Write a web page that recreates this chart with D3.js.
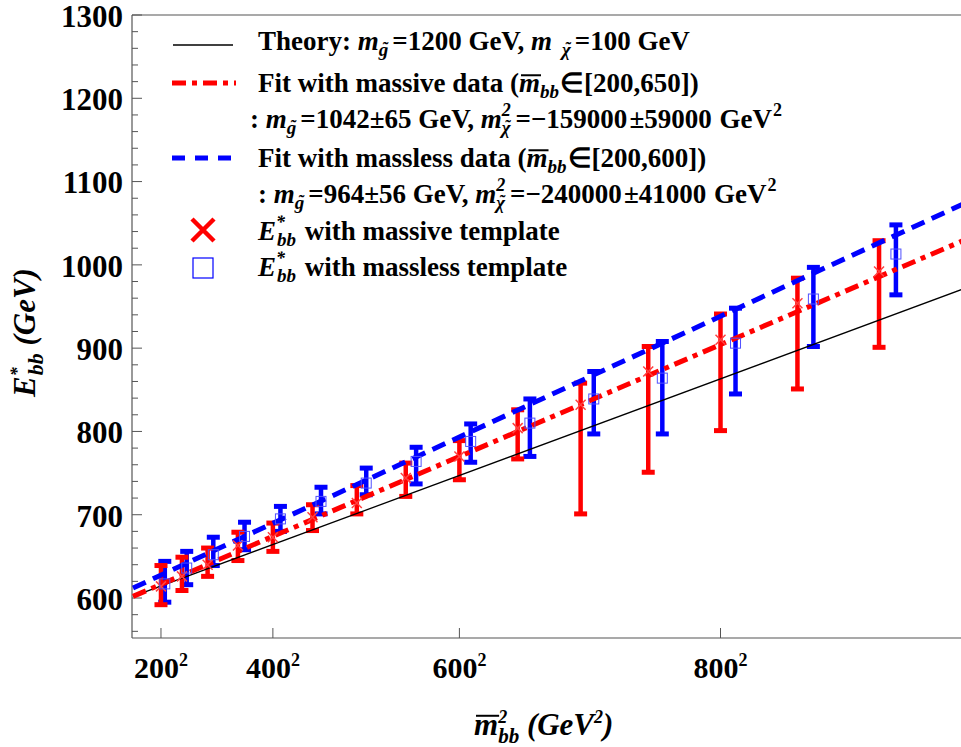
<!DOCTYPE html>
<html>
<head>
<meta charset="utf-8">
<script src="https://cdn.jsdelivr.net/npm/d3@7"></script>
<style>
	body { margin: 0; background: #fff; }
	svg { display: block; font-family: 'Liberation Serif', 'Times New Roman', serif; font-weight: bold; white-space: pre; }
</style>
</head>
<body>
<svg></svg>
<script>
// massive template points (mbb in GeV, E*bb centre, lower, upper)
const massiveM = [200, 250, 300, 350, 400, 450, 500, 550, 600, 650, 700, 750, 800, 850, 900]
const massiveE = [614, 626, 640, 663, 673, 697, 714, 744, 770, 804, 832, 872, 910, 954, 992]
const massiveLo = [592, 609, 626, 645, 656, 681, 701, 722, 742, 767, 701, 751, 801, 851, 901]
const massiveHi = [639, 649, 660, 679, 690, 712, 735, 762, 789, 826, 858, 902, 941, 984, 1029]

// massless template points
const masslessM = [210, 260, 310, 360, 410, 460, 510, 560, 610, 660, 710, 760, 810, 860, 910]
const masslessE = [617, 636, 652, 674, 695, 716, 738, 764, 788, 810, 839, 864, 906, 959, 1013]
const masslessLo = [595, 616, 639, 658, 680, 701, 724, 737, 763, 770, 797, 797, 845, 902, 964]
const masslessHi = [644, 656, 673, 691, 710, 733, 756, 781, 809, 839, 872, 908, 948, 997, 1048]

// straight lines (ends read at the plot edges)
const theoryLine = [[100, 602], [948.7, 971]]
const massiveFit = [[100, 602], [948.7, 1029]]
const masslessFit = [[100, 612], [948.7, 1073]]

const xTicks = [200, 400, 600, 800]
const yTicks = [600, 700, 800, 900, 1000, 1100, 1200, 1300]

const width = 961,
	height = 747,
	red = '#ff0000',
	blue = '#0000ff',
	axisColor = '#555'

const x = d3.scalePow().exponent(2).domain([100, 948.7]).range([133, 963])
const y = d3.scaleLinear().domain([552, 1300]).range([638, 15])

const svg = d3.select('svg').attr('width', width).attr('height', height)

svg.append('clipPath')
	.attr('id', 'plot')
	.append('rect')
	.attr('x', 132)
	.attr('y', 15)
	.attr('width', width - 132)
	.attr('height', 623)

// frame
svg.append('line').attr('x1', 132).attr('x2', width).attr('y1', 15).attr('y2', 15)
	.attr('stroke', axisColor).attr('stroke-width', 1.2)
svg.append('line').attr('x1', 132).attr('x2', width).attr('y1', 638).attr('y2', 638)
	.attr('stroke', axisColor).attr('stroke-width', 1.2)
svg.append('line').attr('x1', 132).attr('x2', 132).attr('y1', 15).attr('y2', 638)
	.attr('stroke', axisColor).attr('stroke-width', 1.2)

// y ticks, minor every 20
const yMinor = d3.range(560, 1301, 20)
svg.selectAll('.ytick')
	.data(yMinor)
	.enter()
	.append('line')
	.attr('x1', 132)
	.attr('x2', d => (d % 100 === 0 ? 142 : 138))
	.attr('y1', d => y(d))
	.attr('y2', d => y(d))
	.attr('stroke', axisColor)
	.attr('stroke-width', 1)

svg.selectAll('.ylab')
	.data(yTicks)
	.enter()
	.append('text')
	.attr('x', 123)
	.attr('y', d => y(d))
	.attr('dy', '0.38em')
	.attr('text-anchor', 'end')
	.attr('font-size', 31)
	.text(d => d)

// x ticks
svg.selectAll('.xtick')
	.data(xTicks)
	.enter()
	.append('line')
	.attr('x1', d => x(d))
	.attr('x2', d => x(d))
	.attr('y1', 638)
	.attr('y2', 628)
	.attr('stroke', axisColor)
	.attr('stroke-width', 1)

const xlab = svg.selectAll('.xlab')
	.data(xTicks)
	.enter()
	.append('text')
	.attr('x', d => x(d))
	.attr('y', 678)
	.attr('text-anchor', 'middle')
	.attr('font-size', 30)
xlab.append('tspan').text(d => d)
xlab.append('tspan').attr('font-size', 18).attr('dy', -12).text('2')

// rich text helper: parts with sub/superscripts, overbars and tildes
function rich(parent, x0, y0, size, parts) {
	const t = parent.append('text').attr('x', x0).attr('y', y0).attr('font-size', size)
	let cur = 0, idx = 0
	const marks = []
	parts.forEach(p => {
		const off = p.dy || 0
		t.append('tspan')
			.attr('dy', off - cur)
			.attr('dx', p.dx || 0)
			.attr('font-size', p.fs || size)
			.attr('font-style', p.it ? 'italic' : 'normal')
			.text(p.t)
		if (p.bar || p.tilde) marks.push({ i: idx, n: p.t.length, p })
		idx += p.t.length
		cur = off
	})
	const node = t.node()
	marks.forEach(m => {
		const s = node.getStartPositionOfChar(m.i)
		const e = node.getEndPositionOfChar(m.i + m.n - 1)
		if (m.p.bar) {
			parent.append('line')
				.attr('x1', s.x + 2)
				.attr('x2', e.x + 1)
				.attr('y1', s.y - size * 0.62)
				.attr('y2', s.y - size * 0.62)
				.attr('stroke', '#000')
				.attr('stroke-width', 2)
		} else {
			parent.append('text')
				.attr('x', (s.x + e.x) / 2 + 2)
				.attr('y', s.y - (m.p.fs || size) * 0.12)
				.attr('text-anchor', 'middle')
				.attr('font-size', (m.p.fs || size) * 0.9)
				.text('\u02dc')
		}
	})
	return t
}
const N = (t, dx) => ({ t, dx: dx || 0 })
const I = t => ({ t, it: true })
const Sub = (t, dx) => ({ t, it: true, fs: 19, dy: 6, dx: dx || 0 })
const Til = (t, dx) => ({ t, it: true, fs: 19, dy: 6, dx: dx || 0, tilde: true })
const Sup = (t, it, dx) => ({ t, it: it, fs: 18, dy: -12, dx: dx || 0 })

// axis titles
rich(svg, 474, 735, 31, [
	{ t: 'm', it: true, bar: true }, Sup('2', true), { t: 'bb', it: true, fs: 21, dy: 8, dx: -9 },
	I(' (GeV'), Sup('2', true), I(')')
])
const yt = svg.append('g').attr('transform', 'translate(35,' + 327 + ') rotate(-90)')
rich(yt, -70, 0, 31, [
	I('E'), Sup('*', true), { t: 'bb', it: true, fs: 22, dy: 8, dx: -8 }, I(' (GeV)')
])

// error bars
function errorBars(ms, es, los, his, color) {
	const data = ms.map((m, i) => ({ m, e: es[i], lo: los[i], hi: his[i] }))
	const g = svg.append('g').attr('clip-path', 'url(#plot)')
	g.selectAll('line.bar')
		.data(data)
		.enter()
		.append('line')
		.attr('x1', d => x(d.m))
		.attr('x2', d => x(d.m))
		.attr('y1', d => y(d.lo))
		.attr('y2', d => y(d.hi))
		.attr('stroke', color)
		.attr('stroke-width', 4.5)
	;['lo', 'hi'].forEach(k => {
		g.selectAll('line.cap' + k)
			.data(data)
			.enter()
			.append('line')
			.attr('x1', d => x(d.m) - 6.5)
			.attr('x2', d => x(d.m) + 6.5)
			.attr('y1', d => y(d[k]))
			.attr('y2', d => y(d[k]))
			.attr('stroke', color)
			.attr('stroke-width', 5)
	})
	return data
}
const blueData = errorBars(masslessM, masslessE, masslessLo, masslessHi, blue)
const redData = errorBars(massiveM, massiveE, massiveLo, massiveHi, red)

// lines
const line = d3.line().x(d => x(d[0])).y(d => y(d[1]))
const lines = svg.append('g').attr('clip-path', 'url(#plot)')
lines.append('path').attr('d', line(theoryLine))
	.attr('fill', 'none').attr('stroke', '#000').attr('stroke-width', 1.3)
lines.append('path').attr('d', line(masslessFit))
	.attr('fill', 'none').attr('stroke', blue).attr('stroke-width', 5)
	.attr('stroke-dasharray', '14,8')
lines.append('path').attr('d', line(massiveFit))
	.attr('fill', 'none').attr('stroke', red).attr('stroke-width', 5)
	.attr('stroke-dasharray', '14,6,5,6')

// markers
svg.append('g')
	.selectAll('path')
	.data(redData)
	.enter()
	.append('path')
	.attr('transform', d => 'translate(' + x(d.m) + ',' + y(d.e) + ')')
	.attr('d', 'M-5,-5L5,5M5,-5L-5,5')
	.attr('stroke', '#ff4040')
	.attr('stroke-width', 1.5)
svg.append('g')
	.selectAll('rect')
	.data(blueData)
	.enter()
	.append('rect')
	.attr('x', d => x(d.m) - 5)
	.attr('y', d => y(d.e) - 5)
	.attr('width', 10)
	.attr('height', 10)
	.attr('fill', 'none')
	.attr('stroke', '#5050ff')
	.attr('stroke-width', 1)

// legend
const lg = svg.append('g')
lg.append('line').attr('x1', 173).attr('x2', 233).attr('y1', 45).attr('y2', 45)
	.attr('stroke', '#000').attr('stroke-width', 1.3)
lg.append('line').attr('x1', 172).attr('x2', 236).attr('y1', 83).attr('y2', 83)
	.attr('stroke', red).attr('stroke-width', 5).attr('stroke-dasharray', '14,6,5,6')
lg.append('line').attr('x1', 172).attr('x2', 231).attr('y1', 158).attr('y2', 158)
	.attr('stroke', blue).attr('stroke-width', 5).attr('stroke-dasharray', '13,10')
lg.append('path').attr('transform', 'translate(203,230)')
	.attr('d', 'M-11,-11L11,11M11,-11L-11,11')
	.attr('stroke', red).attr('stroke-width', 4.5)
lg.append('rect').attr('x', 193).attr('y', 258).attr('width', 20).attr('height', 20)
	.attr('fill', 'none').attr('stroke', blue).attr('stroke-width', 1.2)

const fs = 27
rich(lg, 258, 50, fs, [
	N('Theory: '), I('m'), Til('g'), N('=1200 GeV, ', 4), I('m'), Til('\u03c7', 10), N('=100 GeV', 4)
])
rich(lg, 258, 92, fs, [
	N('Fit with massive data ('), { t: 'm', it: true, bar: true }, Sub('bb'), N('\u2208[200,650])', 1)
])
rich(lg, 250, 128, fs, [
	N(': '), I('m'), Til('g'), N('=1042\u00b165 GeV, ', 4), I('m'), Sup('2', true), Til('\u03c7', -9),
	N('=\u2212159000', 5), N('\u00b159000', 2), N(' GeV', 1), Sup('2', false, 1)
])
rich(lg, 258, 167, fs, [
	N('Fit with massless data ('), { t: 'm', it: true, bar: true }, Sub('bb'), N('\u2208[200,600])', 1)
])
rich(lg, 258, 203, fs, [
	N(': '), I('m'), Til('g'), N('=964\u00b156 GeV, ', 4), I('m'), Sup('2', true), Til('\u03c7', -9),
	N('=\u2212240000', 5), N('\u00b141000', 2), N(' GeV', 1), Sup('2', false, 1)
])
rich(lg, 258, 240, fs, [
	I('E'), Sup('*', true), Sub('bb', -8), N(' with massive template', 2)
])
rich(lg, 258, 276, fs, [
	I('E'), Sup('*', true), Sub('bb', -8), N(' with massless template', 2)
])
</script>
</body>
</html>
